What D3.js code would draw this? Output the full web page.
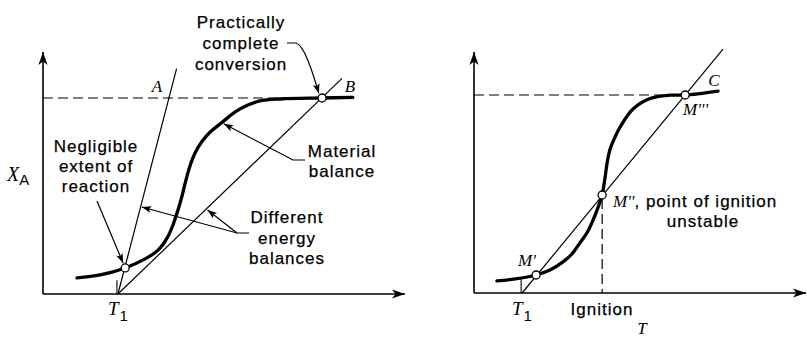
<!DOCTYPE html>
<html>
<head>
<meta charset="utf-8">
<script src="https://cdn.jsdelivr.net/npm/d3@7"></script>
<style>
  body { margin: 0; background: #fff; }
  svg { display: block; }
  .lbl { font-family: "Liberation Sans", Arial, Helvetica, sans-serif; font-size: 17px; letter-spacing: 1px; fill: #000; stroke: #000; stroke-width: 0.25px; }
  .sym { font-family: "Liberation Serif", "Times New Roman", serif; font-style: italic; fill: #000; }
  .sub { font-family: "Liberation Sans", Arial, sans-serif; font-style: normal; font-size: 15px; }
</style>
</head>
<body>
<svg id="chart" width="807" height="340"></svg>
<script>
// ---- Left diagram: one material balance, two energy balances ----
const leftCurveT = [9.4, 15.8, 22.7, 28.2, 31.8, 34.3, 35.9, 37.3, 38.4, 39.5, 40.6, 42.0, 43.9, 46.4, 49.5, 53.0, 56.6, 59.9, 65.5, 77.1, 85.6];
const leftCurveX = [0.082, 0.097, 0.133, 0.179, 0.224, 0.286, 0.352, 0.429, 0.500, 0.582, 0.653, 0.719, 0.778, 0.830, 0.876, 0.928, 0.964, 0.985, 0.995, 1.000, 1.003];
const energyAT = [20.7, 36.9];
const energyAX = [0, 1.15];
const energyBT = [20.7, 82.6];
const energyBX = [0, 1.10];
const leftPointT = [22.7, 77.1];
const leftPointX = [0.133, 1.0];
const leftT1 = 20.7;

// ---- Right diagram: energy balance crossing the S-curve three times ----
const rightCurveT = [6.9, 12.4, 18.7, 22.9, 26.8, 29.5, 31.9, 34.0, 35.5, 37.4, 38.6, 39.5, 40.1, 41.0, 42.5, 44.0, 47.9, 53.0, 59.0, 63.6, 73.5];
const rightCurveX = [0.061, 0.071, 0.091, 0.116, 0.157, 0.197, 0.253, 0.303, 0.354, 0.434, 0.495, 0.586, 0.657, 0.727, 0.788, 0.838, 0.929, 0.982, 0.999, 1.000, 1.020];
const energyCT = [14.5, 75.0];
const energyCX = [0, 1.232];
const rightPointT = [18.7, 38.6, 63.6];
const rightPointX = [0.091, 0.495, 1.0];
const rightT1 = 14.5;
const ignitionT = 38.6;

const svg = d3.select("#chart");
const INK = "#000";

// scales
const xL = d3.scaleLinear().domain([0, 100]).range([43, 405]);
const yL = d3.scaleLinear().domain([0, 1]).range([294, 98]);
const xR = d3.scaleLinear().domain([0, 100]).range([474, 806]);
const yR = d3.scaleLinear().domain([0, 1]).range([293, 95]);
const yLTop = 1.235, yRTop = 1.217;

// arrowheads
const defs = svg.append("defs");
defs.append("marker")
  .attr("id", "axArrow").attr("viewBox", "-14 -6 16 12")
  .attr("refX", 0).attr("refY", 0)
  .attr("markerWidth", 16).attr("markerHeight", 12)
  .attr("markerUnits", "userSpaceOnUse").attr("orient", "auto")
  .append("path").attr("d", "M0,0 L-13,-4.6 L-9.5,0 L-13,4.6Z").attr("fill", INK);
defs.append("marker")
  .attr("id", "ldArrow").attr("viewBox", "-11 -5 12 10")
  .attr("refX", 0).attr("refY", 0)
  .attr("markerWidth", 12).attr("markerHeight", 10)
  .attr("markerUnits", "userSpaceOnUse").attr("orient", "auto")
  .append("path").attr("d", "M0,0 L-9.5,-3.4 L-7.5,0 L-9.5,3.4Z").attr("fill", INK);

const zipTX = (T, X) => T.map((t, i) => [t, X[i]]);

function panel(x, y, yTop, curveT, curveX, lines, T1) {
  const g = svg.append("g");
  // axes
  g.append("line").attr("x1", x(0)).attr("y1", y(0)).attr("x2", x(100)).attr("y2", y(0))
    .attr("stroke", INK).attr("stroke-width", 1.6).attr("marker-end", "url(#axArrow)");
  g.append("line").attr("x1", x(0)).attr("y1", y(0)).attr("x2", x(0)).attr("y2", y(yTop))
    .attr("stroke", INK).attr("stroke-width", 1.6).attr("marker-end", "url(#axArrow)");
  // short tick at T1
  g.append("line").attr("x1", x(T1) - 1).attr("y1", y(0)).attr("x2", x(T1) - 1).attr("y2", y(0.07))
    .attr("stroke", INK).attr("stroke-width", 1.1);
  // energy balance lines
  lines.forEach(([T, X]) => {
    g.append("path").datum(zipTX(T, X))
      .attr("d", d3.line().x(d => x(d[0])).y(d => y(d[1])))
      .attr("fill", "none").attr("stroke", INK).attr("stroke-width", 1.2);
  });
  // material balance
  g.append("path").datum(zipTX(curveT, curveX))
    .attr("d", d3.line().x(d => x(d[0])).y(d => y(d[1])).curve(d3.curveCatmullRom.alpha(0.5)))
    .attr("fill", "none").attr("stroke", INK).attr("stroke-width", 3.3)
    .attr("stroke-linecap", "round");
  return g;
}

function dashed(g, x1, y1, x2, y2) {
  g.append("line").attr("x1", x1).attr("y1", y1).attr("x2", x2).attr("y2", y2)
    .attr("stroke", INK).attr("stroke-width", 1.2).attr("stroke-dasharray", "10,5");
}

function points(g, x, y, T, X) {
  g.selectAll("circle.pt").data(zipTX(T, X)).join("circle")
    .attr("class", "pt")
    .attr("cx", d => x(d[0])).attr("cy", d => y(d[1])).attr("r", 4)
    .attr("fill", "#fff").attr("stroke", INK).attr("stroke-width", 1.3);
}

function leader(d) {
  svg.append("path").attr("d", d).attr("fill", "none")
    .attr("stroke", INK).attr("stroke-width", 1.2).attr("marker-end", "url(#ldArrow)");
}

function textLines(lines, cx, y0, dy) {
  lines.forEach((s, i) => {
    svg.append("text").attr("class", "lbl").attr("x", cx).attr("y", y0 + i * dy)
      .attr("text-anchor", "middle").text(s);
  });
}

// point on a straight energy line at a given conversion
function onLine(T, X, xa) {
  return T[0] + (T[1] - T[0]) * (xa - X[0]) / (X[1] - X[0]);
}

// ---------- left ----------
const gL = panel(xL, yL, yLTop, leftCurveT, leftCurveX, [[energyAT, energyAX], [energyBT, energyBX]], leftT1);
dashed(gL, xL(0), yL(1), xL(leftPointT[1]) - 4, yL(1));
points(gL, xL, yL, leftPointT, leftPointX);

// leaders
{
  const cx = xL(leftPointT[0]), cy = yL(leftPointX[0]);
  const sx = 97, sy = 201;
  const L = Math.hypot(cx - sx, cy - sy), k = (L - 5.2) / L;
  leader(`M${sx},${sy} L${sx + (cx - sx) * k},${sy + (cy - sy) * k}`);
}
{
  const cx = xL(leftPointT[1]), cy = yL(leftPointX[1]);
  leader(`M287,43 H296 C304,45 312,70 ${cx - 3.2},${cy - 4.6}`);
}
{
  const tx = xL(49.5) + 1.5, ty = yL(0.876) + 1.5;
  leader(`M305,160 H293 L${tx},${ty}`);
}
{
  const xa = 0.444, xb = 0.434;
  const ax = xL(onLine(energyAT, energyAX, xa)) + 1.2, ay = yL(xa);
  const bx = xL(onLine(energyBT, energyBX, xb)) + 1.2, by = yL(xb) + 1;
  leader(`M249,233 H237 L${ax},${ay}`);
  leader(`M237,233 L${bx},${by}`);
}

textLines(["Practically", "complete", "conversion"], 241, 28, 21);
textLines(["Negligible", "extent of", "reaction"], 96, 152, 20);
textLines(["Material", "balance"], 342, 157, 20);
textLines(["Different", "energy", "balances"], 287, 223, 20.5);

svg.append("text").attr("class", "sym").attr("x", 157).attr("y", 92)
  .attr("text-anchor", "middle").attr("font-size", 17).text("A");
svg.append("text").attr("class", "sym").attr("x", 350).attr("y", 92)
  .attr("text-anchor", "middle").attr("font-size", 17).text("B");

const xa = svg.append("text").attr("class", "sym").attr("x", 7).attr("y", 181).attr("font-size", 20);
xa.append("tspan").text("X");
xa.append("tspan").attr("class", "sub").attr("dy", 4).text("A");

function t1Label(x0) {
  const t = svg.append("text").attr("class", "sym").attr("x", x0).attr("y", 315).attr("font-size", 19);
  t.append("tspan").text("T");
  t.append("tspan").attr("class", "sub").attr("dx", 1).attr("dy", 6).text("1");
}
t1Label(108);

// ---------- right ----------
const gR = panel(xR, yR, yRTop, rightCurveT, rightCurveX, [[energyCT, energyCX]], rightT1);
dashed(gR, xR(0), yR(1), xR(rightPointT[2]) - 4, yR(1));
dashed(gR, xR(ignitionT), yR(rightPointX[1]) + 4, xR(ignitionT), yR(0));
points(gR, xR, yR, rightPointT, rightPointX);

svg.append("text").attr("class", "sym").attr("x", 714).attr("y", 86)
  .attr("text-anchor", "middle").attr("font-size", 17).text("C");
svg.append("text").attr("class", "sym").attr("x", 683).attr("y", 115)
  .attr("font-size", 17).text("M'''");
svg.append("text").attr("class", "sym").attr("x", 518).attr("y", 266)
  .attr("font-size", 17).text("M'");
{
  const t = svg.append("text").attr("x", 613).attr("y", 207);
  t.append("tspan").attr("class", "sym").attr("font-size", 17).text("M''");
  t.append("tspan").attr("class", "lbl").text(", point of ignition");
}
textLines(["unstable"], 703, 227, 20);
t1Label(512);
textLines(["Ignition"], 602, 315, 20);
svg.append("text").attr("class", "sym").attr("x", 642).attr("y", 334)
  .attr("text-anchor", "middle").attr("font-size", 17).text("T");
</script>
</body>
</html>
